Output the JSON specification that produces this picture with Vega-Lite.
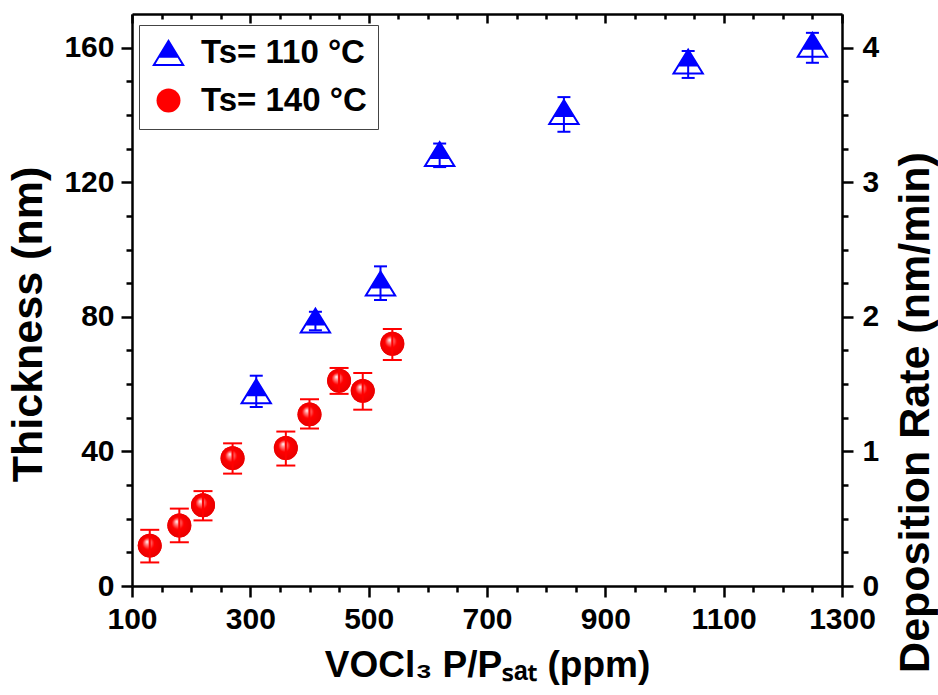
{
  "$schema": "https://vega.github.io/schema/vega-lite/v6.json",
  "width": 710,
  "height": 572,
  "autosize": {"type": "none"},
  "padding": {"left": 132, "top": 14, "right": 96, "bottom": 109},
  "background": "white",
  "datasets": {
    "pts": [
      {"series": "Ts= 110 °C", "ppm": 310, "nm": 58, "lo": 53.2, "hi": 62.5},
      {"series": "Ts= 110 °C", "ppm": 410, "nm": 79, "lo": 76, "hi": 81.5},
      {"series": "Ts= 110 °C", "ppm": 520, "nm": 90, "lo": 85, "hi": 95},
      {"series": "Ts= 110 °C", "ppm": 620, "nm": 128.5, "lo": 124.5, "hi": 131.5},
      {"series": "Ts= 110 °C", "ppm": 830, "nm": 141, "lo": 135, "hi": 145.3},
      {"series": "Ts= 110 °C", "ppm": 1040, "nm": 156, "lo": 151, "hi": 159},
      {"series": "Ts= 110 °C", "ppm": 1250, "nm": 161, "lo": 155.5, "hi": 164.4},
      {"series": "Ts= 140 °C", "ppm": 130, "nm": 12, "lo": 7, "hi": 16.7},
      {"series": "Ts= 140 °C", "ppm": 180, "nm": 18, "lo": 13, "hi": 23},
      {"series": "Ts= 140 °C", "ppm": 220, "nm": 24, "lo": 19.5, "hi": 28.2},
      {"series": "Ts= 140 °C", "ppm": 270, "nm": 38, "lo": 33.4, "hi": 42.4},
      {"series": "Ts= 140 °C", "ppm": 360, "nm": 41, "lo": 35.8, "hi": 45.9},
      {"series": "Ts= 140 °C", "ppm": 400, "nm": 51, "lo": 46.8, "hi": 55.5},
      {"series": "Ts= 140 °C", "ppm": 450, "nm": 61, "lo": 57.1, "hi": 64.8},
      {"series": "Ts= 140 °C", "ppm": 490, "nm": 58, "lo": 52.4, "hi": 63.3},
      {"series": "Ts= 140 °C", "ppm": 540, "nm": 72, "lo": 67.2, "hi": 76.4}
    ],
    "frame": [{"ppm": 100, "nm": 0, "rate": 0}]
  },
  "layer": [
    {
      "data": {"name": "pts"},
      "encoding": {
        "x": {
          "field": "ppm", "type": "quantitative",
          "scale": {"domain": [100, 1300], "nice": false, "zero": false},
          "axis": null
        }
      },
      "layer": [
        {
          "mark": {"type": "point", "filled": true, "size": 573, "opacity": 1, "strokeWidth": 0},
          "encoding": {
            "y": {
              "field": "nm", "type": "quantitative",
              "scale": {"domain": [0, 170], "nice": false, "zero": false},
              "axis": null
            },
            "shape": {
              "field": "series", "type": "nominal",
              "scale": {
                "domain": ["Ts= 110 °C", "Ts= 140 °C"],
                "range": ["M0,-1.12L1.375,1.12L-1.375,1.12ZM-0.767,0.448L-1.077,0.953L1.077,0.953L0.767,0.448Z", "circle"]
              },
              "legend": {
                "title": null,
                "orient": "none",
                "legendX": 7,
                "legendY": 11,
                "padding": 11,
                "symbolOffset": 2,
                "rowPadding": 14,
                "labelOffset": 16,
                "labelLimit": 400,
                "symbolSize": 573,
                "symbolStrokeWidth": 0,
                "labelFont": "Liberation Sans",
                "labelFontWeight": "bold",
                "labelFontSize": 33,
                "labelColor": "black",
                "strokeColor": "#444444",
                "fillColor": "white"
              }
            },
            "fill": {
              "field": "series", "type": "nominal",
              "scale": {
                "domain": ["Ts= 110 °C", "Ts= 140 °C"],
                "range": ["#0000ff", "#ff0000"]
              },
              "legend": {
                "title": null,
                "orient": "none",
                "legendX": 7,
                "legendY": 11,
                "padding": 11,
                "symbolOffset": 2,
                "rowPadding": 14,
                "labelOffset": 16,
                "labelLimit": 400,
                "symbolSize": 573,
                "symbolStrokeWidth": 0,
                "labelFont": "Liberation Sans",
                "labelFontWeight": "bold",
                "labelFontSize": 33,
                "labelColor": "black",
                "strokeColor": "#444444",
                "fillColor": "white"
              }
            }
          }
        },
        {
          "transform": [{"filter": "datum.series === 'Ts= 140 °C'"}],
          "mark": {
            "type": "point", "shape": "circle", "filled": true, "size": 573, "opacity": 1, "strokeWidth": 0,
            "fill": {"gradient": "radial", "x1": 0.38, "y1": 0.33, "r1": 0, "x2": 0.5, "y2": 0.5, "r2": 0.5, "stops": [{"offset": 0, "color": "#ffffff"}, {"offset": 0.18, "color": "#ff9090"}, {"offset": 0.5, "color": "#ff0000"}, {"offset": 1, "color": "#e80000"}]}
          },
          "encoding": {
            "y": {"field": "nm", "type": "quantitative", "scale": {"domain": [0, 170], "nice": false, "zero": false}, "axis": null}
          }
        },
        {
          "mark": {"type": "rule", "strokeWidth": 2},
          "encoding": {
            "y": {"field": "lo", "type": "quantitative", "scale": {"domain": [0, 170], "nice": false, "zero": false}, "axis": null},
            "y2": {"field": "hi"},
            "color": {"condition": {"test": "datum.series === 'Ts= 140 °C'", "value": "#ff0000"}, "value": "#0000ff"}
          }
        },
        {
          "mark": {"type": "tick", "orient": "horizontal", "thickness": 2, "opacity": 1},
          "encoding": {
            "y": {"field": "lo", "type": "quantitative", "scale": {"domain": [0, 170], "nice": false, "zero": false}, "axis": null},
            "size": {"condition": {"test": "datum.series === 'Ts= 140 °C'", "value": 19}, "value": 13},
            "color": {"condition": {"test": "datum.series === 'Ts= 140 °C'", "value": "#ff0000"}, "value": "#0000ff"}
          }
        },
        {
          "mark": {"type": "tick", "orient": "horizontal", "thickness": 2, "opacity": 1},
          "encoding": {
            "y": {"field": "hi", "type": "quantitative", "scale": {"domain": [0, 170], "nice": false, "zero": false}, "axis": null},
            "size": {"condition": {"test": "datum.series === 'Ts= 140 °C'", "value": 19}, "value": 13},
            "color": {"condition": {"test": "datum.series === 'Ts= 140 °C'", "value": "#ff0000"}, "value": "#0000ff"}
          }
        }
      ]
    },
    {
      "data": {"name": "frame"},
      "mark": {"type": "point", "opacity": 0},
      "encoding": {
        "x": {
          "field": "ppm", "type": "quantitative",
          "scale": {"domain": [100, 1300], "nice": false, "zero": false},
          "axis": {
            "orient": "bottom",
            "values": [100, 300, 500, 700, 900, 1100, 1300],
            "format": "d",
            "tickSize": 11, "labelPadding": 7,
            "title": "VOCl₃ P/Pₛₐₜ (ppm)", "titleFontSize": 37, "titlePadding": 13
          }
        },
        "y": {
          "field": "nm", "type": "quantitative",
          "scale": {"domain": [0, 170], "nice": false, "zero": false},
          "axis": {
            "orient": "left",
            "values": [0, 40, 80, 120, 160],
            "format": "d",
            "tickSize": 11, "labelPadding": 7,
            "title": "Thickness (nm)", "titleFontSize": 43, "titlePadding": 13, "titleY": 310
          }
        }
      }
    },
    {
      "data": {"name": "frame"},
      "mark": {"type": "point", "opacity": 0},
      "encoding": {
        "x": {
          "field": "ppm", "type": "quantitative",
          "scale": {"domain": [100, 1300], "nice": false, "zero": false},
          "axis": {"orient": "bottom", "values": [150, 200, 250, 350, 400, 450, 550, 600, 650, 750, 800, 850, 950, 1000, 1050, 1150, 1200, 1250], "tickSize": 6, "labels": false, "domain": false, "title": null}
        },
        "y": {
          "field": "nm", "type": "quantitative",
          "scale": {"domain": [0, 170], "nice": false, "zero": false},
          "axis": {"orient": "left", "values": [10, 20, 30, 50, 60, 70, 90, 100, 110, 130, 140, 150], "tickSize": 6, "labels": false, "domain": false, "title": null}
        }
      }
    },
    {
      "data": {"name": "frame"},
      "mark": {"type": "point", "opacity": 0},
      "encoding": {
        "x": {
          "field": "ppm", "type": "quantitative",
          "scale": {"domain": [100, 1300], "nice": false, "zero": false},
          "axis": {"orient": "top", "values": [100, 300, 500, 700, 900, 1100, 1300], "tickSize": -9, "labels": false, "domain": true, "title": null}
        },
        "y": {
          "field": "rate", "type": "quantitative",
          "scale": {"domain": [0, 4.25], "nice": false, "zero": false},
          "axis": {"orient": "right", "values": [0, 1, 2, 3, 4], "format": "d", "tickSize": 11, "labelPadding": 9, "title": "Deposition Rate (nm/min)", "titleFontSize": 43, "titleAngle": 270, "titleBaseline": "top", "titlePadding": 16, "titleY": 398}
        }
      }
    },
    {
      "data": {"name": "frame"},
      "mark": {"type": "point", "opacity": 0},
      "encoding": {
        "x": {
          "field": "ppm", "type": "quantitative",
          "scale": {"domain": [100, 1300], "nice": false, "zero": false},
          "axis": {"orient": "top", "values": [150, 200, 250, 350, 400, 450, 550, 600, 650, 750, 800, 850, 950, 1000, 1050, 1150, 1200, 1250], "tickSize": -5, "labels": false, "domain": false, "title": null}
        },
        "y": {
          "field": "rate", "type": "quantitative",
          "scale": {"domain": [0, 4.25], "nice": false, "zero": false},
          "axis": {"orient": "right", "values": [0.25, 0.5, 0.75, 1.25, 1.5, 1.75, 2.25, 2.5, 2.75, 3.25, 3.5, 3.75], "tickSize": 6, "labels": false, "domain": false, "title": null}
        }
      }
    }
  ],
  "resolve": {
    "scale": {"y": "independent"},
    "axis": {"x": "independent", "y": "independent"}
  },
  "config": {
    "view": {"stroke": null},
    "axis": {
      "grid": false,
      "domainColor": "black",
      "domainWidth": 2.5,
      "tickColor": "black",
      "tickWidth": 2.5,
      "labelFont": "Liberation Sans",
      "labelFontWeight": "bold",
      "labelFontSize": 30,
      "labelColor": "black",
      "labelOverlap": false,
      "labelFlush": false,
      "titleFont": "Liberation Sans",
      "titleFontWeight": "bold",
      "titleColor": "black"
    }
  }
}
